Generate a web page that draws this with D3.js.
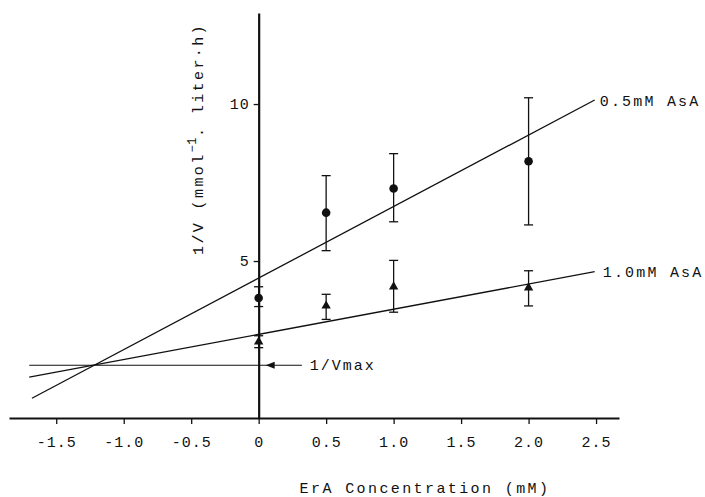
<!DOCTYPE html>
<html>
<head>
<meta charset="utf-8">
<script src="https://d3js.org/d3.v7.min.js"></script>
<style>
  body { margin: 0; background: #fff; }
  svg { display: block; }
  text { font-family: "Liberation Mono", "DejaVu Sans Mono", monospace; fill: #111; }
</style>
</head>
<body>
<script>
// ErA concentration (mM)
var conc = [0, 0.5, 1.0, 2.0];

// 0.5 mM AsA (circles): mean, upper and lower error
var asa05Mean = [3.82, 6.54, 7.31, 8.18];
var asa05Hi   = [4.18, 7.72, 8.42, 10.2];
var asa05Lo   = [3.55, 5.33, 6.25, 6.15];

// 1.0 mM AsA (triangles)
var asa10Mean = [2.43, 3.57, 4.18, 4.15];
var asa10Hi   = [2.62, 3.94, 5.02, 4.69];
var asa10Lo   = [2.24, 3.14, 3.37, 3.57];

// fitted lines, as drawn end points
var fit05X = [-1.68, 2.49], fit05Y = [0.63, 10.13];
var fit10X = [-1.70, 2.49], fit10Y = [1.30, 4.66];

// 1/Vmax marker
var vmax = 1.68;
var vmaxX = [-1.70, 0.32];

var xTicks = [-1.5, -1.0, -0.5, 0, 0.5, 1.0, 1.5, 2.0, 2.5];
var yTicks = [5, 10];

var W = 705, H = 497;
var svg = d3.select("body").append("svg").attr("width", W).attr("height", H);

var x = d3.scaleLinear().domain([-1.85, 2.67]).range([9, 619]);
var y = d3.scaleLinear().domain([0, 12.9]).range([418, 13]);

// axes
var xAxis = d3.axisBottom(x).tickValues(xTicks).tickSize(6).tickSizeOuter(0)
  .tickFormat(function(d) { return d === 0 ? "0" : (d < 0 ? "-" : "") + Math.abs(d).toFixed(1); });
var gx = svg.append("g").attr("transform", "translate(0," + y(0) + ")").call(xAxis);
gx.select(".domain").attr("stroke", "#111").attr("stroke-width", 2);
gx.selectAll(".tick line").attr("stroke", "#111").attr("stroke-width", 1.3);
gx.selectAll(".tick text").attr("y", 18).attr("font-size", 15).style("letter-spacing", "1px").attr("fill", "#111");

var yAxis = d3.axisLeft(y).tickValues(yTicks).tickSize(5).tickSizeOuter(0);
var gy = svg.append("g").attr("transform", "translate(" + x(0) + ",0)").call(yAxis);
gy.select(".domain").attr("stroke", "#111").attr("stroke-width", 2.2);
gy.selectAll(".tick line").attr("stroke", "#111").attr("stroke-width", 1.3);
gy.selectAll(".tick text").attr("x", -9).attr("font-size", 15).style("letter-spacing", "1px").attr("fill", "#111");

// fit lines
var line = d3.line().x(function(d) { return x(d[0]); }).y(function(d) { return y(d[1]); });
svg.append("path").datum(d3.zip(fit05X, fit05Y)).attr("d", line)
  .attr("fill", "none").attr("stroke", "#111").attr("stroke-width", 1.3);
svg.append("path").datum(d3.zip(fit10X, fit10Y)).attr("d", line)
  .attr("fill", "none").attr("stroke", "#111").attr("stroke-width", 1.3);

// 1/Vmax line with arrow
svg.append("path").datum(vmaxX.map(function(v) { return [v, vmax]; })).attr("d", line)
  .attr("fill", "none").attr("stroke", "#111").attr("stroke-width", 1.2);
var tipX = x(0) + 7, ay = y(vmax);
svg.append("path")
  .attr("d", "M" + tipX + "," + ay + "L" + (tipX + 9) + "," + (ay - 3.5) + "L" + (tipX + 9) + "," + (ay + 3.5) + "Z")
  .attr("fill", "#111");
svg.append("text").attr("x", x(vmaxX[1]) + 8).attr("y", ay + 5)
  .attr("font-size", 15).style("letter-spacing", "2px").text("1/Vmax");

// error bars
function errBars(hi, lo) {
  var g = svg.append("g").attr("stroke", "#111").attr("stroke-width", 1.3);
  conc.forEach(function(c, i) {
    g.append("line").attr("x1", x(c)).attr("x2", x(c)).attr("y1", y(hi[i])).attr("y2", y(lo[i]));
    [hi[i], lo[i]].forEach(function(v) {
      g.append("line").attr("x1", x(c) - 4.5).attr("x2", x(c) + 4.5).attr("y1", y(v)).attr("y2", y(v));
    });
  });
}
errBars(asa05Hi, asa05Lo);
errBars(asa10Hi, asa10Lo);

// markers
svg.selectAll("circle.m05").data(conc).enter().append("circle")
  .attr("cx", function(d) { return x(d); })
  .attr("cy", function(d, i) { return y(asa05Mean[i]); })
  .attr("r", 4.3).attr("fill", "#111");

var tri = d3.symbol().type(d3.symbolTriangle).size(38);
svg.selectAll("path.m10").data(conc).enter().append("path")
  .attr("d", tri)
  .attr("transform", function(d, i) { return "translate(" + x(d) + "," + y(asa10Mean[i]) + ")"; })
  .attr("fill", "#111");

// series labels
svg.append("text").attr("x", x(fit05X[1]) + 5).attr("y", y(fit05Y[1]) + 6)
  .attr("font-size", 15).style("letter-spacing", "2.2px").text("0.5mM AsA");
svg.append("text").attr("x", x(fit10X[1]) + 8).attr("y", y(fit10Y[1]) + 5)
  .attr("font-size", 15).style("letter-spacing", "2.2px").text("1.0mM AsA");

// axis titles
svg.append("text").attr("x", 425).attr("y", 493).attr("text-anchor", "middle")
  .attr("font-size", 15).style("letter-spacing", "2.4px").text("ErA Concentration (mM)");

var yl = svg.append("text").attr("transform", "translate(203,139) rotate(-90)")
  .attr("text-anchor", "middle").attr("font-size", 15).style("letter-spacing", "2.4px");
yl.append("tspan").text("1/V (mmol");
yl.append("tspan").attr("dy", -7).attr("font-size", 12).style("letter-spacing", "0.5px").text("\u22121");
yl.append("tspan").attr("dy", 7).text(". liter\u00b7h)");
</script>
</body>
</html>
